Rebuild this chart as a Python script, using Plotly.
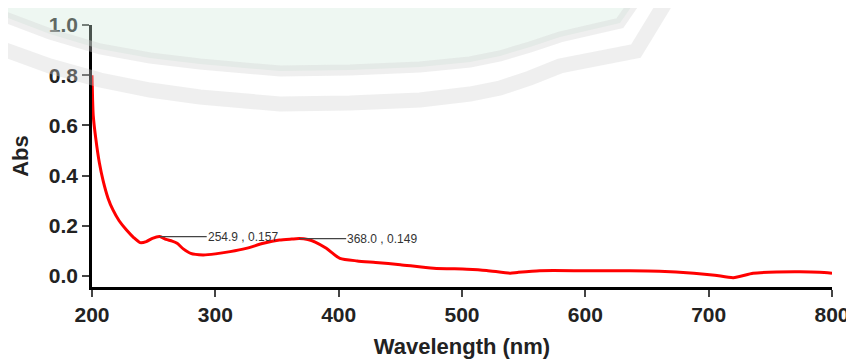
import plotly.graph_objects as go

# UV-Vis spectrum
wavelength = [200, 200.5, 201, 203, 206, 209, 213, 217, 222, 228, 234, 239, 244, 249,
              254.9, 260, 265, 269, 274, 280, 290, 300, 312, 325, 339, 352, 362,
              368, 375, 381, 390, 401, 415, 430, 450, 477, 504, 520, 539, 545,
              563, 600, 636, 660, 688, 705, 720, 736, 755, 774, 790, 800]
absorbance = [0.80, 0.70, 0.64, 0.55, 0.45, 0.38, 0.31, 0.263, 0.22, 0.183, 0.152,
              0.133, 0.137, 0.150, 0.157, 0.146, 0.139, 0.130, 0.108, 0.090, 0.084,
              0.088, 0.097, 0.110, 0.130, 0.143, 0.147, 0.149, 0.145, 0.135, 0.110,
              0.070, 0.060, 0.054, 0.045, 0.031, 0.027, 0.022, 0.011, 0.014, 0.021,
              0.021, 0.021, 0.019, 0.011, 0.003, -0.007, 0.011, 0.016, 0.017, 0.015,
              0.011]

peak_wl = [254.9, 368.0]
peak_abs = [0.157, 0.149]

x_ticks = [200, 300, 400, 500, 600, 700, 800]
y_ticks = [0.0, 0.2, 0.4, 0.6, 0.8, 1.0]

fig = go.Figure()
fig.add_trace(go.Scatter(x=wavelength, y=absorbance, mode="lines",
                         line=dict(color="#ff0000", width=3, shape="spline", smoothing=0.6),
                         showlegend=False))

for wl, ab in zip(peak_wl, peak_abs):
    fig.add_annotation(x=wl, y=ab, xref="x", yref="y",
                       text=f"{wl:.1f} , {ab:.3f}", showarrow=True,
                       arrowhead=0, arrowwidth=1.2, arrowcolor="#444",
                       ax=47, ay=0, xanchor="left", yanchor="middle",
                       borderpad=0, standoff=0,
                       font=dict(family="Liberation Sans", size=12, color="#333"))

# --- faint background watermark (decoration, page-pixel outline -> paper coords) ---
PL, PR, PT, PB = 92, 832, 25, 287


def to_paper(pts):
    return [((x - PL) / (PR - PL), (PB - y) / (PB - PT)) for x, y in pts]


def path_of(pts, close=False):
    p = to_paper(pts)
    s = "M " + " L ".join(f"{x:.4f},{y:.4f}" for x, y in p)
    return s + (" Z" if close else "")


band1 = [(0, 15), (50, 34), (100, 49), (150, 58), (200, 64), (280, 71), (350, 70),
         (420, 67), (470, 62), (500, 56), (530, 47), (560, 37), (620, 23), (636, 0)]
band2 = [(0, 48), (50, 66), (100, 80), (150, 90), (200, 97), (280, 104), (350, 103),
         (420, 100), (470, 94), (500, 88), (530, 78), (560, 66), (636, 51), (667, 0)]
mint = [(0, 0), (636, 0)] + band1[::-1][1:]

fig.add_shape(type="path", xref="paper", yref="paper", path=path_of(mint, close=True),
              fillcolor="rgba(207,232,218,0.36)", line=dict(width=0), layer="above")
fig.add_shape(type="path", xref="paper", yref="paper", path=path_of(band1),
              line=dict(color="rgba(212,212,212,0.36)", width=11), layer="above")
fig.add_shape(type="path", xref="paper", yref="paper", path=path_of(band2),
              line=dict(color="rgba(212,212,212,0.36)", width=15), layer="above")

axis_font = dict(family="Liberation Sans", size=21, color="#222", weight="bold")
title_font = dict(family="Liberation Sans", size=22, color="#222", weight="bold")

fig.update_xaxes(range=[200, 800], tickvals=x_ticks, ticktext=[str(v) for v in x_ticks],
                 showline=True, linecolor="black", linewidth=2.5, mirror=False,
                 ticks="outside", ticklen=7, tickwidth=1.5, tickcolor="#444",
                 showgrid=False, zeroline=False, tickfont=axis_font, automargin=False,
                 title=dict(text="Wavelength (nm)", font=title_font))
fig.update_yaxes(range=[-0.044, 1.0], tickvals=y_ticks,
                 ticktext=[f"{v:.1f}" for v in y_ticks],
                 showline=True, linecolor="black", linewidth=2.5,
                 ticks="outside", ticklen=7, tickwidth=1.5, tickcolor="#444",
                 showgrid=False, zeroline=False, tickfont=axis_font, automargin=False,
                 title=dict(text="Abs", font=title_font))

# page body adds an 8px margin, so the figure is 8px smaller on each leading edge
fig.update_layout(width=846, height=351, margin=dict(l=84, r=22, t=17, b=72),
                  plot_bgcolor="white", paper_bgcolor="white")

fig.write_html("out.html")
